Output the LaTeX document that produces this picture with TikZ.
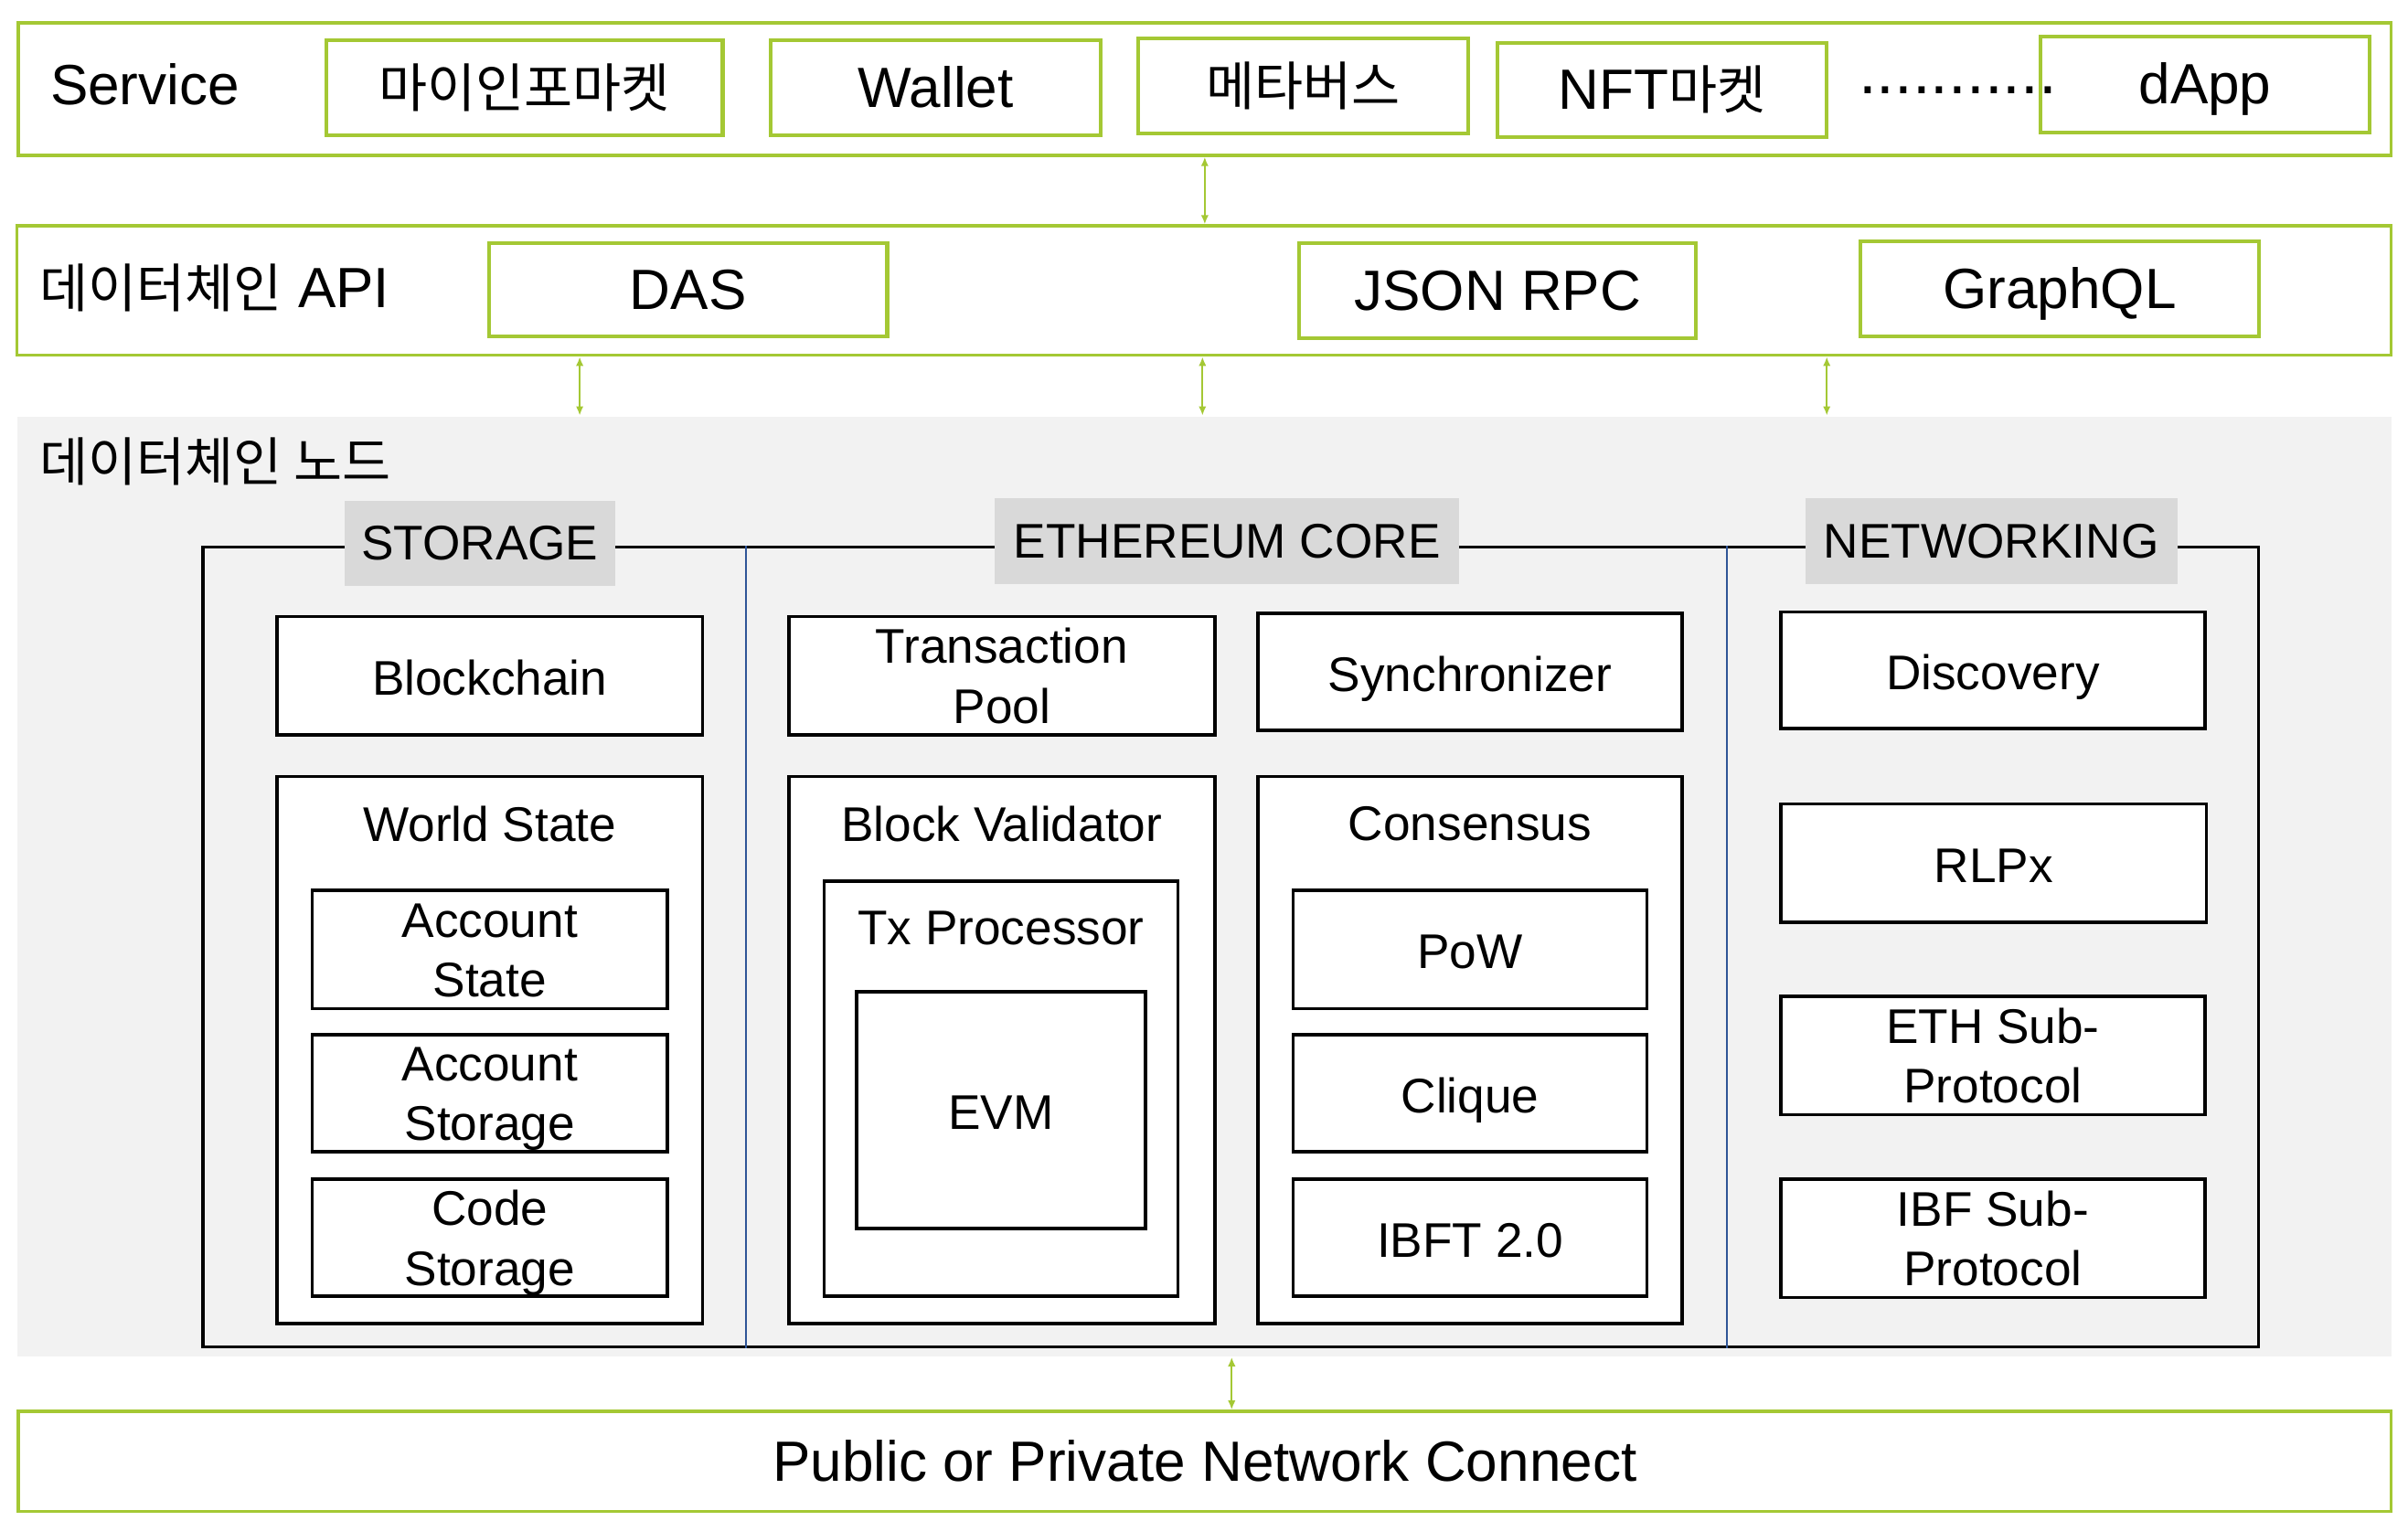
\documentclass[tikz,border=0pt]{standalone}
\usepackage{fontspec}
\setmainfont{Liberation Sans}
\newfontfamily\kr[Scale=0.93]{Noto Sans CJK KR}
\usetikzlibrary{arrows.meta}

\definecolor{apigreen}{RGB}{164,200,52}
\definecolor{nodegray}{RGB}{242,242,242}
\definecolor{labelgray}{RGB}{217,217,217}
\definecolor{divblue}{RGB}{47,85,151}
\newcommand{\bigtxt}{\fontsize{10.5}{12.6}\selectfont}
\newcommand{\boxtxt}{\fontsize{9}{11.1}\selectfont}

\begin{document}
\begin{tikzpicture}[x=0.1mm,y=-0.1mm,
  layer/.style={draw=apigreen,line width=0.6pt,inner sep=0pt},
  greenbox/.style={draw=apigreen,line width=0.7pt,fill=white,inner sep=0pt,font=\bigtxt,text height=0.72em,text depth=0pt},
  lbl/.style={inner sep=0pt,anchor=west,font=\bigtxt},
  blackbox/.style={draw,line width=0.6pt,fill=white,inner sep=0pt,align=center,font=\boxtxt,text height=0.72em,text depth=0pt},
  twoline/.style={blackbox,text height=17.6pt},
  title/.style={fill=labelgray,inner sep=0pt,font=\boxtxt},
  divider/.style={divblue,line width=0.3pt},
  link/.style={apigreen,line width=0.35pt,{Latex[length=0.6mm,width=0.5mm]}-{Latex[length=0.6mm,width=0.5mm]}}]

\useasboundingbox (0,0) rectangle (1566,989.3);

% service layer
\node[layer,minimum width=154.3mm,minimum height=8.6mm] (service) at (783.5,58) {};
\node[lbl] (servicelbl) at (32,55) {Service};
\node[greenbox,minimum width=25.8mm,minimum height=6.2mm] (infomarket) at (341,57) {{\kr 마이인포마켓}};
\node[greenbox,minimum width=21.5mm,minimum height=6.2mm] (wallet) at (608.5,57) {Wallet};
\node[greenbox,minimum width=21.5mm,minimum height=6.2mm] (metaverse) at (847.5,56) {{\kr 메타버스}};
\node[greenbox,minimum width=21.4mm,minimum height=6.1mm] (nftmarket) at (1081,58.5) {NFT{\kr 마켓}};
\node[greenbox,minimum width=21.4mm,minimum height=6.2mm] (dapp) at (1434,55) {dApp};
\node[inner sep=0pt,anchor=base west,font=\fontsize{12}{14}\selectfont] (dots) at (1208,61) {...........};

% api layer
\node[layer,minimum width=154.4mm,minimum height=8.4mm] (api) at (783,189) {};
\node[lbl] (apilbl) at (25,187) {{\kr 데이터체인} API};
\node[greenbox,minimum width=25.9mm,minimum height=6.1mm] (das) at (447.5,188.5) {DAS};
\node[greenbox,minimum width=25.8mm,minimum height=6.2mm] (jsonrpc) at (974,189) {JSON RPC};
\node[greenbox,minimum width=25.9mm,minimum height=6.2mm] (graphql) at (1339.5,188) {GraphQL};

% data chain node
\node[fill=nodegray,inner sep=0pt,minimum width=154.4mm,minimum height=61.1mm] (datanode) at (783,576.5) {};
\node[lbl] (nodelbl) at (25,300) {{\kr 데이터체인 노드}};
\node[draw,line width=0.55pt,inner sep=0pt,minimum width=133.7mm,minimum height=52mm] (frame) at (800.5,616) {};
\foreach \x in {485,1123}
  \draw[divider] (frame.north -| \x,0) -- (frame.south -| \x,0);

\node[title,minimum width=17.6mm,minimum height=5.5mm] (storage) at (312,353.5) {STORAGE};
\node[title,minimum width=30.2mm,minimum height=5.6mm] (core) at (798,352) {ETHEREUM CORE};
\node[title,minimum width=24.2mm,minimum height=5.6mm] (networking) at (1295,352) {NETWORKING};

% storage
\node[blackbox,minimum width=27.7mm,minimum height=7.7mm] (blockchain) at (318.5,439.5) {Blockchain};
\node[blackbox,minimum width=27.7mm,minimum height=35.6mm] (worldstate) at (318.5,683) {};
\node[inner sep=0pt,font=\boxtxt] (worldstatelbl) at (318.5,536) {World State};
\node[twoline,minimum width=23.1mm,minimum height=7.7mm] (accstate) at (318.5,617.5) {Account\\State};
\node[twoline,minimum width=23.1mm,minimum height=7.6mm] (accstorage) at (318.5,711) {Account\\Storage};
\node[twoline,minimum width=23.1mm,minimum height=7.6mm] (codestorage) at (318.5,805) {Code\\Storage};

% ethereum core
\node[twoline,minimum width=27.7mm,minimum height=7.7mm] (txpool) at (651.5,439.5) {Transaction\\Pool};
\node[blackbox,minimum width=27.6mm,minimum height=7.6mm] (sync) at (956,437) {Synchronizer};
\node[blackbox,minimum width=27.7mm,minimum height=35.6mm] (validator) at (651.5,683) {};
\node[inner sep=0pt,font=\boxtxt] (validatorlbl) at (651.5,536) {Block Validator};
\node[blackbox,minimum width=23mm,minimum height=27mm] (txproc) at (651,708) {};
\node[inner sep=0pt,font=\boxtxt] (txproclbl) at (651,604) {Tx Processor};
\node[blackbox,minimum width=18.8mm,minimum height=15.4mm] (evm) at (651,722) {EVM};
\node[blackbox,minimum width=27.6mm,minimum height=35.6mm] (consensus) at (956,683) {};
\node[inner sep=0pt,font=\boxtxt] (consensuslbl) at (956,536) {Consensus};
\node[blackbox,minimum width=23mm,minimum height=7.7mm] (pow) at (956,617.5) {PoW};
\node[blackbox,minimum width=23mm,minimum height=7.6mm] (clique) at (956,711) {Clique};
\node[blackbox,minimum width=23mm,minimum height=7.6mm] (ibft) at (956,805) {IBFT 2.0};

% networking
\node[blackbox,minimum width=27.6mm,minimum height=7.6mm] (discovery) at (1296,436) {Discovery};
\node[blackbox,minimum width=27.7mm,minimum height=7.7mm] (rlpx) at (1296.5,561.5) {RLPx};
\node[twoline,minimum width=27.6mm,minimum height=7.7mm] (ethsub) at (1296,686.5) {ETH Sub-\\Protocol};
\node[twoline,minimum width=27.6mm,minimum height=7.7mm] (ibfsub) at (1296,805.5) {IBF Sub-\\Protocol};

% network
\node[layer,minimum width=154.3mm,minimum height=6.5mm,font=\bigtxt] (net) at (783.5,950.5) {Public or Private Network Connect};

% links
\draw[link] (service.south) -- (service.south |- api.north);
\foreach \x in {377,782,1188}
  \draw[link] (api.south -| \x,0) -- (datanode.north -| \x,0);
\draw[link] (datanode.south -| 801,0) -- (net.north -| 801,0);
\end{tikzpicture}
\end{document}
